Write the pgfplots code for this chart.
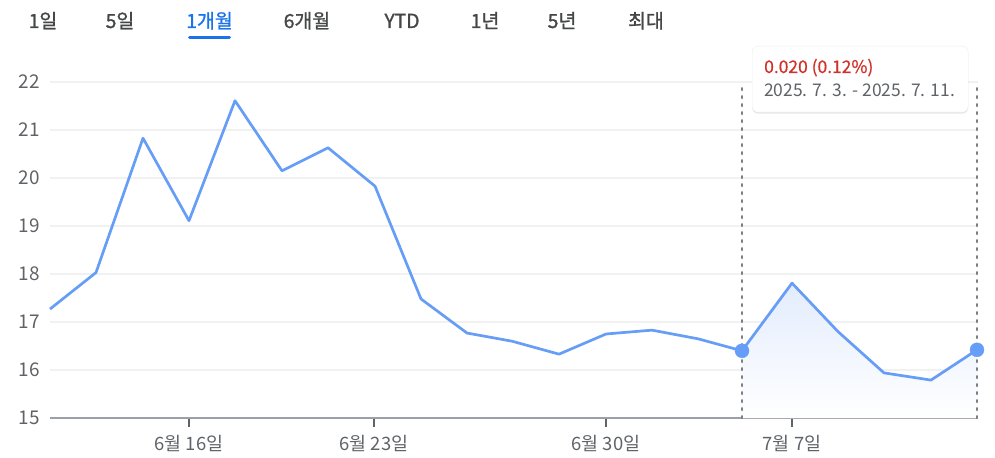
\documentclass[border=0pt]{standalone}
\usepackage{pgfplots}
\pgfplotsset{compat=1.18}
\usepackage{fontspec}
\setmainfont{Noto Sans CJK KR}
\newfontfamily\tabfont{Noto Sans CJK KR}[FakeBold=1.2]
\newfontfamily\semifont{Noto Sans CJK KR}[FakeBold=0.6]
\usetikzlibrary{shadows}
\definecolor{lineblue}{HTML}{669DF6}
\definecolor{areablue}{HTML}{E3ECFD}
\definecolor{gridgray}{HTML}{F1F1F1}
\definecolor{axisgray}{HTML}{9AA0A6}
\definecolor{tickgray}{HTML}{5F6368}
\definecolor{labelgray}{HTML}{5F6368}
\definecolor{tabgray}{HTML}{444746}
\definecolor{activeblue}{HTML}{1A73E8}
\definecolor{redtxt}{HTML}{D0322A}
\definecolor{dotgray}{HTML}{7A7F85}
\begin{document}
\begin{tikzpicture}
\useasboundingbox (0,0) rectangle (995bp,458bp);
% tabs
\foreach \x/\t in {43/1일,120/5일,307/6개월,402/YTD,485/1년,562/5년,646/최대}
  \node[anchor=base, inner sep=0pt, text=tabgray, font=\tabfont\fontsize{19.5}{22}\selectfont] at (\x bp,430bp) {\t};
\node[anchor=base, inner sep=0pt, text=activeblue, font=\tabfont\fontsize{19.5}{22}\selectfont] at (209.5bp,430bp) {1개월};
\draw[activeblue, line width=3bp, line cap=round] (189.5bp,420bp) -- (229.5bp,420bp);
\begin{axis}[
  at={(50bp,40bp)}, anchor=south west,
  scale only axis, width=928bp, height=336bp,
  xmin=50, xmax=978, ymin=15, ymax=22,
  clip=false,
  ytick={15,16,...,22},
  xtick={189,374,606,792},
  xticklabels={6월 16일,6월 23일,6월 30일,7월 7일},
  ymajorgrids,
  grid style={draw=gridgray, line width=1.3bp},
  axis x line*=bottom, axis y line*=left,
  x axis line style={draw=axisgray, line width=2bp, -},
  y axis line style={draw=none},
  tick align=outside,
  major tick length=9bp,
  xtick style={draw=tickgray, line width=2bp},
  ytick style={draw=none},
  /pgf/number format/assume math mode=true,
  xticklabel style={font=\fontsize{18.5}{21}\selectfont, text=labelgray, yshift=-5bp},
  yticklabel style={font=\fontsize{19}{21}\selectfont, text=labelgray, anchor=east, inner sep=0pt, xshift=-1bp},
]
\addplot[draw=none, top color=areablue, bottom color=white] coordinates {
  (742,16.40) (792,17.81) (838,16.80) (884,15.94) (931,15.79) (977,16.42)
} \closedcycle;
\addplot[lineblue, line width=2.7bp, line join=round] coordinates {
  (50,17.27) (96,18.03) (143,20.83) (189,19.11) (235,21.61) (282,20.15)
  (328,20.63) (375,19.83) (421,17.48) (467,16.77) (512,16.60) (559,16.33)
  (606,16.75) (652,16.83) (698,16.65) (742,16.40) (792,17.81) (838,16.80)
  (884,15.94) (931,15.79) (977,16.42)
};
\draw[dotgray, line width=2.6bp, line cap=round, dash pattern=on 1.8bp off 6.2bp] (axis cs:742,15) -- (axis cs:742,21.875);
\draw[dotgray, line width=2.6bp, line cap=round, dash pattern=on 1.8bp off 6.2bp] (axis cs:977,15) -- (axis cs:977,21.875);
\addplot[only marks, mark=*, mark size=7bp, color=lineblue] coordinates {(742,16.40) (977,16.42)};
\end{axis}
% tooltip
\node[fill=white, draw=black!7, rounded corners=6bp, drop shadow={shadow xshift=0bp, shadow yshift=-1.5bp, opacity=0.2}, minimum width=216bp, minimum height=66bp, anchor=north west, inner sep=0pt] at (752bp,412bp) {};
\node[anchor=base west, inner sep=0pt, text=redtxt, font=\semifont\fontsize{17.5}{20}\selectfont] at (764bp,385bp) {0.020 (0.12\%)};
\node[anchor=base west, inner sep=0pt, text=labelgray, font=\fontsize{17.5}{20}\selectfont] at (764bp,361bp) {2025. 7. 3. - 2025. 7. 11.};
\end{tikzpicture}
\end{document}
